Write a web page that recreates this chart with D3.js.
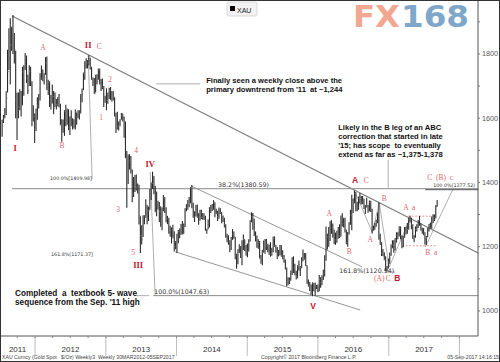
<!DOCTYPE html>
<html>
<head>
<meta charset="utf-8">
<script src="https://cdnjs.cloudflare.com/ajax/libs/d3/7.8.5/d3.min.js"></script>
<style>
body { margin: 0; background: #fff; }
text { white-space: pre; }
</style>
</head>
<body>
<div id="chart"></div>
<script>
// XAU weekly bars, first bar is the week ending 15 Jul 2011
var firstWeek = new Date(2011, 6, 15)

var high = [
  1595,1610,1632,1684,1813,1880,1911,1885,1921,1865,1810,1680,1680,1690,1685,1760,1765,1803,1795,1735,1765,1760,1715,1640,1615,
  1630,1665,1675,1740,1764,1752,1740,1790,1792,1720,1715,1672,1705,1685,1680,1660,1665,1675,1645,1597,1596,1625,1642,1630,1628,1605,
  1625,1600,1597,1627,1618,1625,1625,1675,1692,1742,1777,1787,1781,1796,1788,1760,1727,1725,1735,1737,1755,1755,1722,1724,1700,1670,
  1693,1680,1695,1697,1685,1684,1665,1617,1620,1590,1597,1616,1615,1605,1590,1498,1487,1488,1482,1440,1417,1423,1425,1397,1393,1295,
  1267,1298,1298,1348,1330,1325,1380,1400,1433,1420,1390,1372,1343,1339,1326,1322,1361,1355,1323,1296,1290,1265,1260,1268,1248,1218,
  1240,1252,1257,1271,1280,1272,1320,1332,1345,1355,1385,1392,1337,1310,1330,1331,1304,1315,1315,1305,1304,1296,1256,1285,1323,1330,
  1333,1345,1338,1318,1312,1322,1320,1308,1297,1290,1270,1240,1236,1220,1230,1255,1247,1230,1178,1192,1208,1202,1220,1238,1223,1205,
  1210,1223,1282,1307,1305,1287,1247,1235,1223,1218,1174,1190,1219,1224,1224,1209,1206,1214,1197,1232,1232,1205,1199,1190,1205,1205,
  1189,1174,1160,1135,1105,1104,1126,1167,1170,1147,1125,1142,1157,1140,1167,1191,1180,1180,1142,1098,1090,1082,1089,1088,1088,1081,
  1082,1112,1105,1111,1128,1173,1263,1240,1261,1279,1282,1272,1253,1244,1250,1261,1270,1297,1304,1290,1290,1253,1246,1276,1315,1362,
  1350,1375,1370,1340,1356,1367,1358,1358,1349,1330,1352,1330,1344,1343,1318,1265,1274,1284,1307,1338,1240,1214,1193,1183,1170,1140,1163,
  1182,1207,1220,1220,1227,1245,1245,1264,1263,1234,1234,1261,1262,1274,1290,1296,1290,1270,1236,1263,1270,1283,1296,1273,1260,1258,
  1245,1233,1258,1271,1275,1294,1301,1300,1330,1345
]
var low = [
  1542,1585,1600,1610,1680,1750,1705,1810,1800,1770,1600,1532,1600,1625,1605,1640,1670,1750,1710,1675,1700,1700,1575,1590,1523,
  1560,1595,1630,1655,1720,1715,1705,1735,1688,1672,1635,1627,1646,1612,1635,1627,1637,1634,1578,1527,1555,1545,1575,1580,1563,1548,
  1575,1565,1568,1565,1580,1600,1596,1615,1650,1687,1720,1755,1755,1765,1752,1720,1700,1675,1680,1705,1720,1705,1685,1690,1635,1648,
  1625,1645,1660,1656,1652,1655,1605,1554,1565,1562,1575,1595,1590,1539,1476,1321,1395,1440,1428,1338,1355,1370,1375,1366,1269,1180,
  1207,1230,1270,1290,1270,1280,1315,1345,1380,1363,1308,1295,1316,1277,1262,1251,1310,1305,1276,1270,1240,1231,1210,1226,1185,1192,
  1180,1211,1226,1237,1238,1240,1261,1310,1315,1323,1335,1320,1290,1277,1294,1290,1268,1281,1286,1284,1283,1250,1240,1254,1260,1305,
  1311,1315,1292,1301,1280,1287,1302,1273,1277,1260,1228,1214,1206,1183,1190,1221,1225,1161,1131,1145,1180,1165,1142,1190,1187,1172,
  1167,1185,1216,1276,1253,1233,1216,1197,1194,1163,1147,1142,1182,1178,1190,1183,1175,1169,1172,1183,1200,1181,1162,1170,1173,1169,
  1161,1150,1129,1077,1080,1084,1094,1112,1118,1111,1098,1102,1125,1109,1133,1155,1159,1140,1085,1076,1062,1052,1046,1061,1047,1068,
  1058,1061,1072,1080,1096,1107,1156,1191,1200,1218,1240,1228,1208,1206,1212,1225,1227,1232,1263,1260,1244,1208,1200,1238,1268,1251,
  1305,1335,1310,1310,1315,1335,1331,1332,1317,1302,1322,1306,1310,1308,1241,1250,1253,1262,1273,1222,1205,1171,1170,1158,1124,1125,1132,
  1147,1172,1195,1181,1188,1213,1223,1232,1223,1195,1198,1228,1238,1240,1253,1275,1254,1225,1214,1228,1247,1258,1265,1250,1240,1236,
  1207,1205,1230,1247,1256,1256,1273,1280,1288,1324
]
var close = [
  1594,1601,1628,1663,1745,1852,1828,1883,1856,1813,1656,1624,1635,1683,1642,1744,1753,1788,1725,1686,1746,1713,1597,1606,1566,
  1617,1638,1664,1737,1725,1725,1725,1773,1710,1711,1658,1662,1668,1631,1659,1642,1663,1644,1580,1592,1572,1622,1591,1627,1572,1604,
  1578,1591,1584,1620,1604,1620,1616,1671,1691,1739,1770,1773,1772,1780,1758,1724,1712,1676,1730,1714,1751,1712,1702,1696,1658,1656,
  1656,1662,1687,1658,1668,1667,1609,1572,1575,1577,1592,1608,1596,1580,1476,1403,1462,1469,1437,1364,1386,1392,1383,1387,1297,1234,
  1223,1277,1295,1322,1310,1312,1370,1397,1396,1386,1308,1333,1337,1309,1272,1315,1352,1313,1287,1287,1243,1251,1229,1235,1201,1213,
  1238,1248,1254,1264,1240,1263,1318,1323,1326,1339,1380,1335,1293,1303,1318,1293,1303,1302,1290,1293,1292,1250,1252,1274,1316,1316,
  1320,1337,1310,1304,1294,1309,1305,1280,1287,1268,1230,1216,1217,1192,1222,1239,1231,1171,1177,1190,1200,1175,1191,1222,1195,1195,
  1186,1216,1277,1293,1279,1234,1227,1205,1213,1166,1152,1183,1199,1201,1206,1203,1178,1178,1188,1225,1204,1189,1168,1180,1201,1173,
  1168,1159,1131,1099,1095,1094,1113,1159,1134,1121,1107,1138,1145,1137,1156,1177,1162,1141,1088,1081,1076,1056,1085,1075,1065,1076,
  1061,1098,1089,1097,1117,1173,1239,1230,1221,1271,1258,1255,1218,1222,1239,1234,1232,1291,1289,1272,1252,1213,1243,1274,1298,1315,
  1340,1366,1327,1323,1350,1336,1336,1341,1321,1327,1328,1310,1338,1316,1257,1252,1266,1276,1304,1226,1209,1179,1177,1160,1134,1133,1151,
  1173,1196,1205,1190,1220,1234,1238,1257,1234,1202,1229,1245,1249,1254,1286,1283,1268,1227,1228,1254,1267,1280,1266,1254,1256,1242,
  1212,1228,1254,1269,1258,1289,1285,1291,1325,1339
]

var years = ["2011", "2012", "2013", "2014", "2015", "2016", "2017"]
var priceTicks = [1000, 1200, 1400, 1600, 1800]

// wave counts: label, decimal year, price, kind
var waveLabels = [
  ["I", 2011.717, 1498, "roman"],
  ["A", 2012.113, 1812, "light"],
  ["B", 2012.382, 1507, "light"],
  ["II", 2012.75, 1819, "roman"],
  ["C", 2012.905, 1816, "light"],
  ["2", 2013.061, 1713, "light"],
  ["1", 2012.934, 1595, "light"],
  ["4", 2013.429, 1492, "light"],
  ["IV", 2013.627, 1448, "roman"],
  ["3", 2013.174, 1308, "light"],
  ["5", 2013.386, 1174, "light"],
  ["III", 2013.457, 1134, "roman"],
  ["V", 2015.932, 1006, "bold"],
  ["A", 2016.158, 1296, "light"],
  ["B", 2016.441, 1177, "light"],
  ["A", 2016.526, 1398, "bold"],
  ["C", 2016.682, 1398, "light"],
  ["B", 2016.936, 1342, "light"],
  ["A", 2016.738, 1215, "light"],
  ["(A)", 2016.866, 1093, "light"],
  ["C", 2016.993, 1093, "light"],
  ["B", 2017.12, 1093, "bold"],
  ["A  a", 2017.29, 1314, "light"],
  ["B  a", 2017.601, 1174, "light"],
  ["C  (B)  c", 2017.728, 1408, "light"]
]

// fibonacci level texts: label, decimal year, price, kind
var fibLabels = [
  ["100.0%[1409.98]", 2012.212, 1408, "small"],
  ["161.8%(1171.37]", 2012.226, 1171, "small"],
  ["38.2%(1380.59)", 2014.588, 1386, "large"],
  ["100.0%(1047.63)", 2013.683, 1053, "large"],
  ["161.8%(1120.94)", 2016.3, 1118, "large"],
  ["100.0%(1377.52)", 2017.63, 1386, "small"]
]

// drawn lines: year0, price0, year1, price1, kind
var drawnLines = [
  [2011.675, 1918, 2018.266, 1180.5, "trend"],
  [2011.675, 1380.59, 2018.266, 1380.59, "level"],
  [2013.669, 1047.63, 2018.266, 1047.63, "level"],
  [2013.429, 1047.63, 2013.613, 1047.63, "thin"],
  [2012.75, 1796, 2012.806, 1409.98, "thin"],
  [2013.627, 1433, 2013.697, 1047.63, "thin"],
  [2013.711, 1707, 2014.334, 1707, "thin"],
  [2016.993, 1470, 2016.993, 1384, "thin"],
  [2014.207, 1389, 2016.625, 1137, "channel"],
  [2013.98, 1184, 2016.597, 1003, "channel"],
  [2016.95, 1120.94, 2017.09, 1120.94, "thin"],
  [2016.526, 1370, 2016.767, 1245, "thin"],
  [2016.767, 1245, 2016.866, 1336, "thin"],
  [2016.866, 1336, 2017.007, 1137, "thin"],
  [2017.007, 1137, 2017.304, 1290, "thin"],
  [2017.516, 1199, 2017.912, 1380, "thin"],
  [2017.516, 1377.52, 2018.266, 1377.52, "dark"],
  [2017.276, 1295, 2017.672, 1295, "red"],
  [2017.19, 1203, 2017.686, 1203, "red"]
]

var notes = [
  [["Finally seen a weekly close above the", "primary downtrend from '11  at ~1,244"], 2014.419, 1710],
  [["Likely in the B leg of an ABC", "correction that started in late", "'15; has scope  to eventually", "extend as far as ~1,375-1,378"], 2016.286, 1563],
  [["Completed  a  textbook 5- wave", "sequence from the Sep. '11 high"], 2011.717, 1048]
]

var width = 500, height = 362
var plotW = 478, plotH = 336

var svg = d3.select("#chart").append("svg")
  .attr("width", width)
  .attr("height", height)
  .style("font-family", "'Liberation Sans', Arial, sans-serif")

svg.append("rect").attr("width", width).attr("height", height).attr("fill", "#fff")

var x = d3.scaleTime()
  .domain([new Date(2011, 6, 4), new Date(2018, 3, 7)])
  .range([0, plotW])
var y = d3.scaleLinear()
  .domain([922, 1968])
  .range([plotH, 0])

function dy(t) {
  var yr = Math.floor(t)
  var s = new Date(yr, 0, 1), e = new Date(yr + 1, 0, 1)
  return new Date(+s + (t - yr) * (e - s))
}

var weeks = high.map(function (h, i) {
  return { date: d3.timeDay.offset(firstWeek, i * 7), high: h, low: low[i], close: close[i] }
})

// FX168 watermark
var logo = svg.append("g").style("font-family", "'DejaVu Sans', sans-serif").style("font-weight", "bold")
logo.append("text").attr("x", 353).attr("y", 27).attr("font-size", 30)
  .attr("textLength", 47).attr("lengthAdjust", "spacingAndGlyphs")
  .attr("fill", "#f2a791").text("FX")
logo.append("text").attr("x", 401).attr("y", 27).attr("font-size", 30)
  .attr("textLength", 68).attr("lengthAdjust", "spacingAndGlyphs")
  .attr("fill", "#7fa7c9").text("168")

// legend
var leg = svg.append("g")
leg.append("rect").attr("x", 227).attr("y", 2).attr("width", 30).attr("height", 14).attr("rx", 2)
  .attr("fill", "#f2f2f2").attr("stroke", "#d8d8d8")
leg.append("rect").attr("x", 230).attr("y", 6).attr("width", 5).attr("height", 5).attr("fill", "#000")
leg.append("text").attr("x", 237).attr("y", 12.5).attr("font-size", 7).attr("fill", "#222").text("XAU")

// annotation lines
var lineStyle = {
  trend: ["#7a7a7a", 1.1, null],
  level: ["#8a8a8a", 1, null],
  channel: ["#8a8a8a", 0.9, null],
  thin: ["#8c8c8c", 0.7, null],
  dark: ["#444", 0.9, null],
  red: ["#e08080", 0.8, "2,1.5"]
}
svg.append("g").selectAll("line")
  .data(drawnLines)
  .enter()
  .append("line")
  .attr("x1", function (d) { return x(dy(d[0])) })
  .attr("y1", function (d) { return y(d[1]) })
  .attr("x2", function (d) { return x(dy(d[2])) })
  .attr("y2", function (d) { return y(d[3]) })
  .attr("stroke", function (d) { return lineStyle[d[4]][0] })
  .attr("stroke-width", function (d) { return lineStyle[d[4]][1] })
  .attr("stroke-dasharray", function (d) { return lineStyle[d[4]][2] })

// weekly bars
var bars = svg.append("g")
bars.selectAll("line.hl")
  .data(weeks)
  .enter()
  .append("line")
  .attr("class", "hl")
  .attr("x1", function (d) { return x(d.date) })
  .attr("x2", function (d) { return x(d.date) })
  .attr("y1", function (d) { return y(d.high) })
  .attr("y2", function (d) { return y(d.low) })
  .attr("stroke", "#2a2a2a")
  .attr("stroke-width", 1.1)
bars.selectAll("line.cl")
  .data(weeks)
  .enter()
  .append("line")
  .attr("class", "cl")
  .attr("x1", function (d) { return x(d.date) })
  .attr("x2", function (d) { return x(d.date) + 1.2 })
  .attr("y1", function (d) { return y(d.close) })
  .attr("y2", function (d) { return y(d.close) })
  .attr("stroke", "#777")
  .attr("stroke-width", 1)

// fibonacci texts
svg.append("g").selectAll("text")
  .data(fibLabels)
  .enter()
  .append("text")
  .attr("x", function (d) { return x(dy(d[1])) })
  .attr("y", function (d) { return y(d[2]) })
  .attr("font-family", "'DejaVu Sans', sans-serif")
  .attr("font-size", function (d) { return d[3] == "small" ? 4.8 : 6.3 })
  .attr("fill", "#333")
  .text(function (d) { return d[0] })

// wave labels
svg.append("g").selectAll("text")
  .data(waveLabels)
  .enter()
  .append("text")
  .attr("x", function (d) { return x(dy(d[1])) })
  .attr("y", function (d) { return y(d[2]) })
  .attr("text-anchor", "middle")
  .attr("font-family", function (d) { return d[3] == "bold" ? "'Liberation Sans', sans-serif" : "'Liberation Serif', serif" })
  .attr("font-weight", function (d) { return d[3] == "light" ? "normal" : "bold" })
  .attr("font-size", function (d) { return d[3] == "light" ? 7.5 : 8.5 })
  .attr("fill", function (d) { return d[3] == "light" ? "#e2676b" : "#c8162f" })
  .text(function (d) { return d[0] })

// commentary
var noteSize = [7.6, 7.6, 8.2]
var noteG = svg.append("g")
notes.forEach(function (n, k) {
  var t = noteG.append("text")
    .attr("x", x(dy(n[1])))
    .attr("y", y(n[2]))
    .attr("font-size", noteSize[k])
    .attr("font-weight", "bold")
    .attr("fill", "#111")
  n[0].forEach(function (s, i) {
    t.append("tspan").attr("x", x(dy(n[1]))).attr("dy", i == 0 ? 0 : 9).text(s)
  })
})

// right price axis
var ax = svg.append("g")
ax.append("line").attr("x1", plotW).attr("x2", plotW).attr("y1", 0).attr("y2", plotH).attr("stroke", "#555")
ax.append("line").attr("x1", 0).attr("x2", plotW).attr("y1", plotH).attr("y2", plotH).attr("stroke", "#555")
ax.selectAll("line.minor")
  .data(y.ticks(10))
  .enter()
  .append("line")
  .attr("x1", plotW).attr("x2", plotW + 2)
  .attr("y1", function (d) { return y(d) }).attr("y2", function (d) { return y(d) })
  .attr("stroke", "#777")
ax.selectAll("text")
  .data(priceTicks)
  .enter()
  .append("text")
  .attr("x", plotW + 4)
  .attr("y", function (d) { return y(d) + 2.5 })
  .attr("font-size", 7.2)
  .attr("fill", "#555")
  .text(function (d) { return d })

// time axis
var yearStarts = years.map(function (s) { return new Date(+s + 1, 0, 1) })
ax.selectAll("line.sep")
  .data(yearStarts)
  .enter()
  .append("line")
  .attr("x1", function (d) { return x(d) }).attr("x2", function (d) { return x(d) })
  .attr("y1", plotH).attr("y2", 356)
  .attr("stroke", "#bbb")
ax.selectAll("line.q")
  .data(d3.timeMonth.every(3).range(new Date(2011, 9, 1), new Date(2018, 3, 1)))
  .enter()
  .append("line")
  .attr("x1", function (d) { return x(d) }).attr("x2", function (d) { return x(d) })
  .attr("y1", plotH).attr("y2", plotH + 2)
  .attr("stroke", "#888")
ax.selectAll("text.yr")
  .data(years)
  .enter()
  .append("text")
  .attr("x", function (s) {
    var a = Math.max(0, x(new Date(+s, 0, 1))), b = Math.min(plotW, x(new Date(+s + 1, 0, 1)))
    return (a + b) / 2
  })
  .attr("y", 352)
  .attr("text-anchor", "middle")
  .attr("font-size", 8)
  .attr("fill", "#333")
  .text(function (s) { return s })

// footer
var foot = svg.append("g").attr("font-size", 5.2).attr("fill", "#444")
foot.append("text").attr("x", 2).attr("y", 359).text("XAU Curncy (Gold Spot   $/Oz) Weekly3  Weekly 30MAR2012-05SEP2017")
foot.append("text").attr("x", 261).attr("y", 359).text("Copyright\u00a9 2017 Bloomberg Finance L.P.")
foot.append("text").attr("x", 499).attr("y", 359).attr("text-anchor", "end").text("05-Sep-2017 14:16:15")

svg.append("rect").attr("x", 0.5).attr("y", 0.5).attr("width", width - 1).attr("height", height - 1)
  .attr("fill", "none").attr("stroke", "#333")
</script>
</body>
</html>
